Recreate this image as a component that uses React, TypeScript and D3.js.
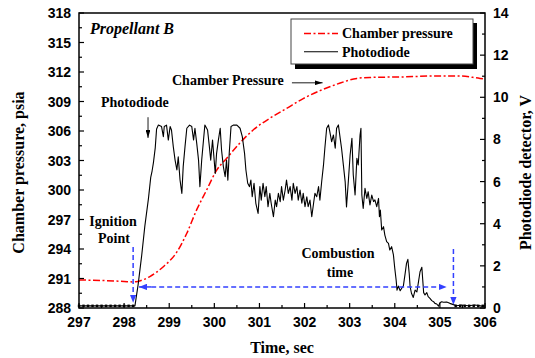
import * as d3 from 'd3';

// axis ticks
const timeTicks = [297, 298, 299, 300, 301, 302, 303, 304, 305, 306];
const pressureTicks = [288, 291, 294, 297, 300, 303, 306, 309, 312, 315, 318];
const voltTicks = [0, 2, 4, 6, 8, 10, 12, 14];

// chamber pressure, psia  [time, psia]
const chamberPressure: [number, number][] = [
  [297.0, 290.85], [297.5, 290.8], [298.0, 290.7], [298.2, 290.65], [298.3, 290.7],
  [298.57, 291.2], [298.87, 292.2], [299.17, 293.7], [299.39, 295.6], [299.61, 298.0],
  [299.83, 300.0], [300.05, 302.0], [300.27, 303.2], [300.57, 304.8], [300.86, 306.1],
  [301.23, 307.3], [301.6, 308.3], [301.97, 309.3], [302.34, 310.1], [302.71, 310.75],
  [303.16, 311.35], [303.45, 311.45], [304.19, 311.5], [304.93, 311.6], [305.45, 311.6],
  [305.89, 311.35], [306.0, 311.3],
];

// photodiode detector, V  [time, volt]
const photodiode: [number, number][] = [
  [297.0, 0.1], [297.5, 0.1], [298.0, 0.1], [298.24, 0.1],
  [298.31, 1.1], [298.39, 2.5], [298.46, 3.9], [298.54, 5.2], [298.59, 6.2], [298.62, 6.5],
  [298.65, 6.9], [298.69, 7.6], [298.72, 8.5], [298.76, 8.68],
  [298.83, 8.61], [298.87, 8.13], [298.89, 8.61], [298.94, 8.68], [298.98, 7.97], [299.02, 8.61],
  [299.05, 8.45], [299.09, 7.66], [299.13, 7.02], [299.17, 6.55], [299.2, 7.18], [299.24, 6.07],
  [299.28, 5.44], [299.31, 6.71], [299.35, 7.66], [299.39, 8.53], [299.45, 8.68], [299.5, 8.61],
  [299.54, 7.97], [299.57, 8.53], [299.61, 7.81], [299.65, 7.02], [299.68, 5.76], [299.72, 7.02],
  [299.76, 7.97], [299.79, 8.68], [299.85, 8.45], [299.89, 7.66], [299.92, 7.02], [299.96, 7.97],
  [300.02, 6.39], [300.05, 7.34], [300.09, 7.97], [300.13, 8.53], [300.16, 7.5], [300.2, 6.71],
  [300.24, 6.23], [300.27, 7.02], [300.3, 6.07], [300.33, 7.34], [300.37, 8.61], [300.42, 8.68],
  [300.5, 8.68], [300.57, 8.53], [300.62, 8.13], [300.67, 7.34], [300.7, 6.55], [300.74, 5.92],
  [300.78, 5.76], [300.81, 6.07], [300.84, 5.28], [300.88, 5.92], [300.92, 4.97], [300.97, 4.49],
  [301.01, 5.76], [301.04, 5.12], [301.08, 5.92], [301.12, 5.28], [301.15, 5.76], [301.19, 4.81],
  [301.23, 5.44], [301.26, 4.97], [301.31, 4.33], [301.35, 5.12], [301.38, 4.81], [301.42, 5.44],
  [301.46, 5.05], [301.49, 5.76], [301.53, 5.12], [301.57, 5.6], [301.6, 6.07], [301.64, 5.44],
  [301.68, 5.76], [301.72, 5.12], [301.75, 5.92], [301.79, 5.44], [301.83, 5.76], [301.86, 5.12],
  [301.9, 5.6], [301.94, 4.97], [301.97, 5.44], [302.01, 4.81], [302.05, 5.28], [302.08, 4.81],
  [302.12, 5.12], [302.16, 4.33], [302.2, 4.97], [302.23, 5.44], [302.27, 5.28], [302.31, 5.76],
  [302.34, 5.12], [302.38, 6.0], [302.42, 6.79], [302.45, 7.58], [302.49, 8.53], [302.53, 8.69],
  [302.56, 8.37], [302.6, 7.89], [302.64, 8.21], [302.68, 7.58], [302.71, 8.53], [302.75, 8.69],
  [302.79, 8.05], [302.82, 7.58], [302.86, 6.79], [302.9, 6.0], [302.93, 4.8], [302.97, 6.0],
  [303.01, 7.26], [303.05, 8.05], [303.08, 6.31], [303.12, 5.36], [303.16, 7.1], [303.19, 6.79],
  [303.23, 8.21], [303.25, 8.53], [303.27, 5.36], [303.3, 4.73], [303.34, 5.68], [303.38, 5.2],
  [303.41, 5.52], [303.45, 4.89], [303.49, 5.36], [303.53, 5.05], [303.56, 5.13], [303.6, 4.81],
  [303.64, 5.2], [303.66, 4.33], [303.68, 4.65], [303.71, 3.7], [303.75, 3.86], [303.78, 3.46],
  [303.82, 3.15], [303.86, 3.07], [303.89, 2.75], [303.93, 2.91], [303.97, 2.52], [304.0, 1.88],
  [304.03, 1.33], [304.05, 0.85], [304.08, 1.04], [304.12, 0.82], [304.15, 0.93], [304.19, 1.04],
  [304.23, 1.64], [304.26, 2.12], [304.29, 2.31], [304.32, 1.64], [304.34, 1.01], [304.37, 0.7],
  [304.41, 0.5], [304.45, 0.85], [304.49, 0.76], [304.52, 1.17], [304.56, 1.72], [304.6, 1.93],
  [304.62, 1.33], [304.64, 0.73], [304.67, 0.62], [304.71, 0.73], [304.74, 0.54], [304.78, 0.46],
  [304.82, 0.35], [304.86, 0.3], [304.89, 0.22], [304.93, 0.19], [304.97, 0.09], [305.0, 0.25],
  [305.04, 0.3], [305.08, 0.27], [305.15, 0.28], [305.22, 0.22], [305.3, 0.16], [305.37, 0.11],
  [305.48, 0.14], [305.63, 0.11], [305.78, 0.14], [305.93, 0.09], [306.0, 0.1],
];

// sample points drawn as small squares on the flat baseline
const baselineTimes = [
  297.0, 297.1, 297.2, 297.3, 297.4, 297.5, 297.6, 297.7, 297.8, 297.9, 298.0, 298.1, 298.2,
  305.35, 305.45, 305.55, 305.65, 305.75, 305.85, 305.95,
];

const W = 535;
const H = 358;
const serif = '"Liberation Serif", "Times New Roman", serif';
const sans = '"Liberation Sans", Arial, sans-serif';
const BLUE = '#3340ff';

export default function App() {
  const x = d3.scaleLinear().domain([297, 306]).range([79, 485]);
  const yP = d3.scaleLinear().domain([288, 318]).range([308, 13]);
  const yV = d3.scaleLinear().domain([0, 14]).range([308, 13]);

  const pLine = d3.line<[number, number]>()
    .x(d => x(d[0]))
    .y(d => yP(d[1]))
    .curve(d3.curveMonotoneX);
  const vLine = d3.line<[number, number]>()
    .x(d => x(d[0]))
    .y(d => yV(d[1]));

  const [x0, x1] = x.range();
  const [y0, y1] = yP.range(); // bottom, top

  const timeMinor = timeTicks.slice(0, -1).map(t => t + 0.5);
  const pressMinor = pressureTicks.slice(0, -1).map(p => p + 1.5);
  const voltMinor = voltTicks.slice(0, -1).map(v => v + 1);

  return (
    <svg width={W} height={H} style={{ position: 'absolute', left: 0, top: 0, background: '#fff' }}>
      <defs>
        <marker id="blueHead" viewBox="0 0 10 8" refX="10" refY="4" markerWidth="8" markerHeight="6.4"
          markerUnits="userSpaceOnUse" orient="auto">
          <path d="M0,0 L10,4 L0,8 Z" fill={BLUE} />
        </marker>
        <marker id="blackHead" viewBox="0 0 10 6" refX="10" refY="3" markerWidth="8" markerHeight="4.8"
          markerUnits="userSpaceOnUse" orient="auto">
          <path d="M0,0 L10,3 L0,6 Z" fill="#000" />
        </marker>
      </defs>

      {/* data */}
      <path d={pLine(chamberPressure) ?? ''} fill="none" stroke="#ff0000" strokeWidth={1.5}
        strokeDasharray="7,2.5,2,2.5" />
      <path d={vLine(photodiode) ?? ''} fill="none" stroke="#000" strokeWidth={1.1} strokeLinejoin="round" />
      {baselineTimes.map(t => (
        <rect key={t} x={x(t) - 1.2} y={yV(0.1) - 1.3} width={2.4} height={2.6} fill="#000" />
      ))}

      {/* blue dashed annotations */}
      <g stroke={BLUE} strokeWidth={1.5} strokeDasharray="5,3" fill="none">
        <line x1={x(298.2)} y1={yV(2.9)} x2={x(298.2)} y2={yV(0.25)} markerEnd="url(#blueHead)" />
        <line x1={x(305.3)} y1={yV(2.8)} x2={x(305.3)} y2={yV(0.15)} markerEnd="url(#blueHead)" />
        <line x1={x(298.6)} y1={yV(1.0)} x2={x(298.33)} y2={yV(1.0)} strokeDasharray="none" markerEnd="url(#blueHead)" />
        <line x1={x(298.6)} y1={yV(1.0)} x2={x(305.15)} y2={yV(1.0)} markerEnd="url(#blueHead)" />
      </g>

      {/* black arrows */}
      <line x1={x(301.72)} y1={yP(310.9)} x2={x(302.4)} y2={yP(310.9)} stroke="#000" strokeWidth={0.9}
        markerEnd="url(#blackHead)" />
      <line x1={x(298.53)} y1={yP(307.4)} x2={x(298.53)} y2={yP(305.3)} stroke="#000" strokeWidth={0.9}
        markerEnd="url(#blackHead)" />

      {/* annotation text */}
      <g fontFamily={serif} fontWeight="bold" fontSize={14} fill="#000">
        <text x={90} y={33.5} fontSize={16} fontStyle="italic">Propellant B</text>
        <text x={172} y={85}>Chamber Pressure</text>
        <text x={101} y={107}>Photodiode</text>
        <text x={113} y={226} textAnchor="middle">Ignition</text>
        <text x={114} y={243} textAnchor="middle">Point</text>
        <text x={338} y={258} textAnchor="middle">Combustion</text>
        <text x={340} y={277} textAnchor="middle">time</text>
      </g>

      {/* legend */}
      <rect x={295} y={23} width={182} height={46} fill="#000" />
      <rect x={291} y={19} width={182} height={45} fill="#fff" stroke="#444" strokeWidth={1} />
      <line x1={304} y1={33.5} x2={338} y2={33.5} stroke="#ff0000" strokeWidth={1.5} strokeDasharray="7,2.5,2,2.5" />
      <line x1={304} y1={51.7} x2={338} y2={51.7} stroke="#000" strokeWidth={1.1} />
      <g fontFamily={serif} fontWeight="bold" fontSize={14} fill="#000">
        <text x={342} y={38}>Chamber pressure</text>
        <text x={342} y={56.5}>Photodiode</text>
      </g>

      {/* frame */}
      <rect x={x0} y={y1} width={x1 - x0} height={y0 - y1} fill="none" stroke="#000" strokeWidth={1.5} />

      {/* ticks */}
      <g stroke="#000" strokeWidth={1.2}>
        {timeTicks.map(t => <line key={'xt' + t} x1={x(t)} x2={x(t)} y1={y0} y2={y0 - 5} />)}
        {timeMinor.map(t => <line key={'xm' + t} x1={x(t)} x2={x(t)} y1={y0} y2={y0 - 3} />)}
        {pressureTicks.map(p => <line key={'pt' + p} x1={x0} x2={x0 + 5} y1={yP(p)} y2={yP(p)} />)}
        {pressMinor.map(p => <line key={'pm' + p} x1={x0} x2={x0 + 3} y1={yP(p)} y2={yP(p)} />)}
        {voltTicks.map(v => <line key={'vt' + v} x1={x1} x2={x1 - 5} y1={yV(v)} y2={yV(v)} />)}
        {voltMinor.map(v => <line key={'vm' + v} x1={x1} x2={x1 - 3} y1={yV(v)} y2={yV(v)} />)}
      </g>

      {/* tick labels */}
      <g fontFamily={sans} fontWeight="bold" fontSize={14} fill="#000">
        {timeTicks.map(t => (
          <text key={'xl' + t} x={x(t)} y={327} textAnchor="middle">{t}</text>
        ))}
        {pressureTicks.map(p => (
          <text key={'pl' + p} x={71} y={yP(p) + 5} textAnchor="end">{p}</text>
        ))}
        {voltTicks.map(v => (
          <text key={'vl' + v} x={493} y={yV(v) + 5}>{v}</text>
        ))}
      </g>

      {/* axis titles */}
      <g fontFamily={serif} fontWeight="bold" fontSize={16} fill="#000">
        <text x={282} y={353} textAnchor="middle">Time, sec</text>
        <text transform={`translate(24,${(y0 + y1) / 2 + 12}) rotate(-90)`} textAnchor="middle">
          Chamber pressure, psia
        </text>
        <text transform={`translate(531,${(y0 + y1) / 2 + 12}) rotate(-90)`} textAnchor="middle">
          Photodiode detector, V
        </text>
      </g>
    </svg>
  );
}
